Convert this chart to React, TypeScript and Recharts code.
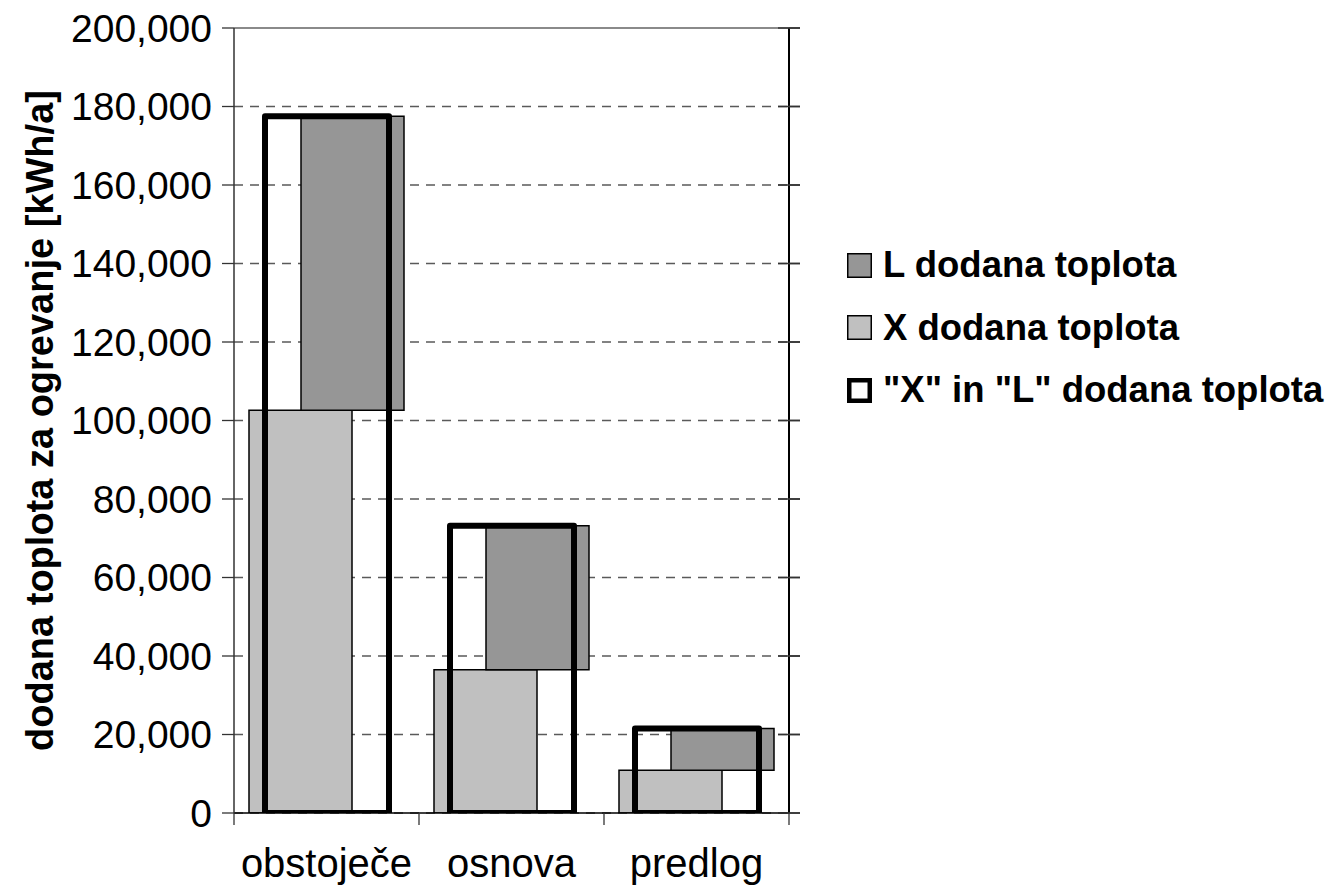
import React from "react"
import {
  ComposedChart,
  Bar,
  XAxis,
  YAxis,
  CartesianGrid,
  ReferenceLine,
  Legend,
  Label,
} from "recharts"

const categories = ["obstoječe", "osnova", "predlog"]
const xDodana = [102600, 36500, 10900]
const lDodana = [74900, 36700, 10600]
const yTicks = [0, 20000, 40000, 60000, 80000, 100000, 120000, 140000, 160000, 180000, 200000]

const legendItems = [
  { name: "L dodana toplota", fill: "#969696", stroke: "#000", width: 1.5 },
  { name: "X dodana toplota", fill: "#c0c0c0", stroke: "#000", width: 1.5 },
  { name: '"X" in "L" dodana toplota', fill: "#fff", stroke: "#000", width: 4.5 },
]

const data = categories.map((name, i) => ({
  name,
  x: xDodana[i],
  lRange: [xDodana[i], xDodana[i] + lDodana[i]],
  total: xDodana[i] + lDodana[i],
}))

const W = 1344
const H = 888
const PLOT_LEFT = 234
const PLOT_RIGHT = 789
const RIGHT_AXIS_W = 12
const BAND = (PLOT_RIGHT - PLOT_LEFT) / categories.length
const FONT = "'Liberation Sans', Arial, Helvetica, sans-serif"

const fmt = (v: number) => v.toLocaleString("en-US")

function CategoryTick(props: any) {
  const { x, y, payload, index } = props
  return (
    <g>
      <line x1={x - BAND / 2} x2={x - BAND / 2} y1={y} y2={y + 12} stroke="#333" strokeWidth={1.3} />
      {index === categories.length - 1 && (
        <line x1={x + BAND / 2} x2={x + BAND / 2} y1={y} y2={y + 12} stroke="#333" strokeWidth={1.3} />
      )}
      <text x={x} y={y + 64} textAnchor="middle" fontSize={40} fontFamily={FONT} fill="#000">
        {payload.value}
      </text>
    </g>
  )
}

// tick line of the right axis goes outward; this draws the inward half
function InnerTick(props: any) {
  const { x, y } = props
  return <line x1={x - 22} x2={x} y1={y} y2={y} stroke="#333" strokeWidth={1.5} />
}

function LegendBox() {
  return (
    <div style={{ fontFamily: FONT, fontWeight: "bold", fontSize: 36.5, color: "#000" }}>
      {legendItems.map((it) => (
        <div key={it.name} style={{ display: "flex", alignItems: "center", height: 62.5, whiteSpace: "nowrap" }}>
          <svg width={25} height={25} style={{ marginRight: 11, flex: "none" }}>
            <rect
              x={it.width / 2}
              y={it.width / 2}
              width={25 - it.width}
              height={25 - it.width}
              fill={it.fill}
              stroke={it.stroke}
              strokeWidth={it.width}
            />
          </svg>
          <span>{it.name}</span>
        </div>
      ))}
    </div>
  )
}

export default function App() {
  return (
    <div style={{ position: "absolute", left: 0, top: 0, width: W, height: H, background: "#fff" }}>
      <ComposedChart
        width={W}
        height={H}
        data={data}
        margin={{ top: 28, right: W - PLOT_RIGHT - RIGHT_AXIS_W, bottom: 0, left: 0 }}
        barGap={-51}
      >
        <CartesianGrid
          xAxisId="main"
          vertical={false}
          stroke="#5a5a5a"
          strokeDasharray="9 7"
          strokeWidth={1.3}
        />
        <ReferenceLine xAxisId="main" y={200000} stroke="#8a8a8a" strokeWidth={2} />
        <XAxis
          xAxisId="main"
          dataKey="name"
          height={75}
          interval={0}
          tickLine={false}
          tickSize={0}
          tickMargin={0}
          tick={<CategoryTick />}
          axisLine={{ stroke: "#000", strokeWidth: 1.5 }}
        />
        <XAxis xAxisId="outline" dataKey="name" hide />
        <YAxis
          width={PLOT_LEFT}
          domain={[0, 200000]}
          ticks={yTicks}
          allowDataOverflow
          tickFormatter={fmt}
          tickSize={12}
          tickMargin={10}
          tick={{ fontSize: 39, fontFamily: FONT, fill: "#000" }}
          tickLine={{ stroke: "#333", strokeWidth: 1.3 }}
          axisLine={{ stroke: "#333", strokeWidth: 1.5 }}
        >
          <Label
            content={(p: any) => {
              const vb = p.viewBox
              const cx = 40
              const cy = vb.y + vb.height / 2
              return (
                <text
                  x={cx}
                  y={cy}
                  transform={`rotate(-90 ${cx} ${cy})`}
                  textAnchor="middle"
                  dominantBaseline="central"
                  fontSize={38}
                  fontWeight="bold"
                  fontFamily={FONT}
                  fill="#000"
                >
                  dodana toplota za ogrevanje [kWh/a]
                </text>
              )
            }}
          />
        </YAxis>
        <YAxis
          yAxisId="right"
          orientation="right"
          width={RIGHT_AXIS_W}
          domain={[0, 200000]}
          ticks={yTicks}
          allowDataOverflow
          tickLine={{ stroke: "#333", strokeWidth: 1.5 }}
          tickSize={11}
          tickMargin={0}
          tick={<InnerTick />}
          axisLine={{ stroke: "#000", strokeWidth: 2 }}
        />
        <Bar
          xAxisId="main"
          dataKey="x"
          name="X dodana toplota"
          fill="#c0c0c0"
          stroke="#000"
          strokeWidth={1.5}
          barSize={103}
          isAnimationActive={false}
        />
        <Bar
          xAxisId="main"
          dataKey="lRange"
          name="L dodana toplota"
          fill="#969696"
          stroke="#000"
          strokeWidth={1.5}
          barSize={103}
          isAnimationActive={false}
        />
        <Bar
          xAxisId="outline"
          dataKey="total"
          name='"X" in "L" dodana toplota'
          fill="none"
          stroke="#000"
          strokeWidth={6}
          strokeLinejoin="round"
          barSize={124}
          isAnimationActive={false}
        />
        <Legend
          layout="vertical"
          align="center"
          verticalAlign="middle"
          wrapperStyle={{ left: 847, top: 234, width: "auto" }}
          content={() => <LegendBox />}
        />
      </ComposedChart>
    </div>
  )
}
